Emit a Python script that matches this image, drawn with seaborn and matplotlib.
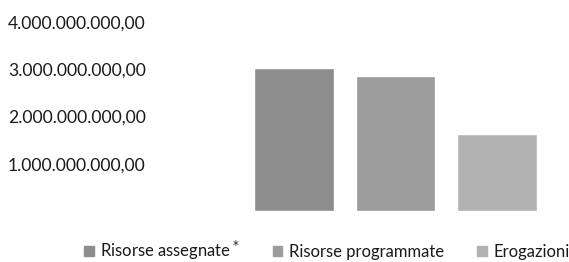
import matplotlib
matplotlib.use('Agg')
import matplotlib.pyplot as plt
import seaborn as sns
import pandas as pd
from matplotlib.ticker import FuncFormatter

series = ['Risorse assegnate$^*$', 'Risorse programmate', 'Erogazioni']
values = [3.03e9, 2.86e9, 1.64e9]
colors = ['#8d8d8d', '#9c9c9c', '#b2b2b2']
yticks = [1e9, 2e9, 3e9, 4e9]

df = pd.DataFrame({'serie': series, 'valore': values})

sns.set_style('white')
plt.rcParams['font.family'] = ['Lato', 'DejaVu Sans']

fig = plt.figure(figsize=(5.69, 2.62), dpi=100)
ax = fig.add_axes([150 / 569, 51 / 262, 400 / 569, 189 / 262])

sns.barplot(data=df, x='serie', y='valore', hue='serie', palette=colors,
            width=0.785, legend=False, ax=ax, saturation=1)

ax.set_xlim(-1.415, 2.52)
ax.set_ylim(0, 4e9)
ax.set_yticks(yticks)


def it_fmt(v, pos):
    s = '{:,.2f}'.format(v)
    return s.replace(',', 'X').replace('.', ',').replace('X', '.')


ax.yaxis.set_major_formatter(FuncFormatter(it_fmt))
ax.tick_params(axis='y', length=0, labelsize=12.6, pad=3, labelcolor='#1a1a1a')
ax.set_xticks([])
ax.set_xlabel('')
ax.set_ylabel('')
for side in ax.spines.values():
    side.set_visible(False)

handles = [plt.Rectangle((0, 0), 1, 1, color=c) for c in colors]
fig.legend(handles, series, loc='center', bbox_to_anchor=(327 / 569, 12 / 262),
           ncol=3, frameon=False, fontsize=12, handlelength=0.55,
           handleheight=0.55, handletextpad=0.4, columnspacing=2.0,
           labelcolor='#1a1a1a')

fig.savefig('out.png', dpi=100)
